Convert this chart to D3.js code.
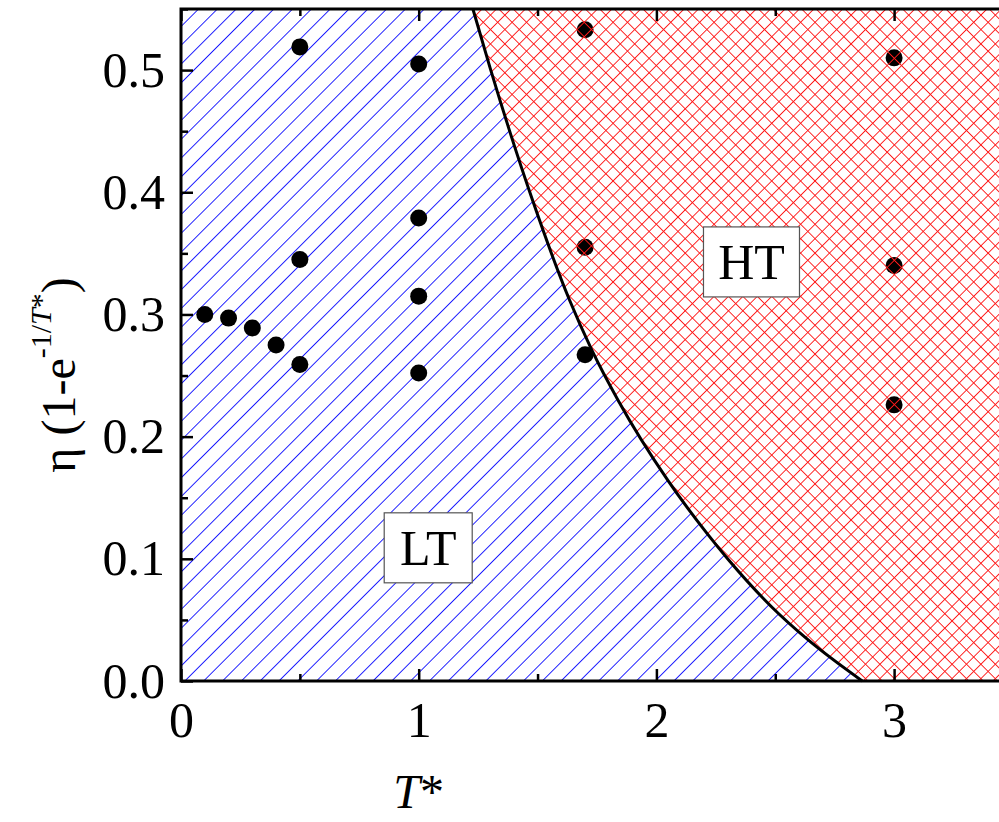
<!DOCTYPE html>
<html>
<head>
<meta charset="utf-8">
<script src="https://cdn.jsdelivr.net/npm/d3@7"></script>
<style>
  html, body { margin: 0; padding: 0; background: #fff; overflow: hidden; }
  svg { display: block; }
  text { font-family: "Liberation Serif", "Times New Roman", serif; }
</style>
</head>
<body>
<svg id="chart" width="999" height="822"></svg>
<script>
// ---- data ----
const ltT   = [0.1, 0.2, 0.3, 0.4, 0.5, 0.5, 0.5, 1.0, 1.0, 1.0, 1.0, 1.7];
const ltEta = [0.300, 0.297, 0.289, 0.275, 0.259, 0.345, 0.519, 0.252, 0.315, 0.379, 0.505, 0.267];
const htT   = [1.7, 1.7, 3.0, 3.0, 3.0];
const htEta = [0.355, 0.533, 0.226, 0.340, 0.510];
const boundaryT   = [1.228, 1.300, 1.386, 1.478, 1.634, 1.728, 1.841, 2.049, 2.212, 2.304, 2.483, 2.636, 2.866];
const boundaryEta = [0.550, 0.502, 0.448, 0.394, 0.312, 0.271, 0.229, 0.164, 0.121, 0.099, 0.061, 0.034, 0.000];
const xTicks = [0, 1, 2, 3];
const xMinorTicks = [0.5, 1.5, 2.5, 3.5];
const yTicks = [0.0, 0.1, 0.2, 0.3, 0.4, 0.5];
const yMinorTicks = [0.05, 0.15, 0.25, 0.35, 0.45, 0.55];
const regionLabels = ["LT", "HT"];
const regionLabelT = [1.04, 2.40];
const regionLabelEta = [0.109, 0.343];

// ---- layout ----
const svg = d3.select("#chart");
const padLeft = 181, padTop = 9, padBottom = 681, pxPerT = 237.7;
const xMax = 3.5, yMax = 0.55;
const x = d3.scaleLinear().domain([0, xMax]).range([padLeft, padLeft + xMax * pxPerT]);
const y = d3.scaleLinear().domain([0, yMax]).range([padBottom, padTop]);

const defs = svg.append("defs");
// blue single hatch
const bp = 13.3;
const pb = defs.append("pattern").attr("id", "hatchBlue")
  .attr("patternUnits", "userSpaceOnUse").attr("width", bp).attr("height", bp)
  .attr("patternTransform", "rotate(45)");
pb.append("line").attr("x1", 0).attr("y1", 0).attr("x2", 0).attr("y2", bp)
  .attr("stroke", "#1a1aff").attr("stroke-width", 1.5).attr("shape-rendering", "crispEdges");
// red cross hatch
const rp = 10.2;
const pr = defs.append("pattern").attr("id", "hatchRed")
  .attr("patternUnits", "userSpaceOnUse").attr("width", rp).attr("height", rp)
  .attr("patternTransform", "rotate(45)");
pr.append("line").attr("x1", 0).attr("y1", 0).attr("x2", 0).attr("y2", rp)
  .attr("stroke", "#ff1a1a").attr("stroke-width", 1.5).attr("shape-rendering", "crispEdges");
pr.append("line").attr("x1", 0).attr("y1", 0).attr("x2", rp).attr("y2", 0)
  .attr("stroke", "#ff1a1a").attr("stroke-width", 1.5).attr("shape-rendering", "crispEdges");

const boundary = boundaryT.map((t, i) => [t, boundaryEta[i]]);
const line = d3.line().x(d => x(d[0])).y(d => y(d[1])).curve(d3.curveMonotoneX);
const bPath = line(boundary);

// LT region
svg.append("path")
  .attr("d", bPath + `L${x(0)},${y(0)}L${x(0)},${y(yMax)}Z`)
  .attr("fill", "url(#hatchBlue)");

// points
const pts = ltT.map((t, i) => [t, ltEta[i]]).concat(htT.map((t, i) => [t, htEta[i]]));
svg.selectAll("circle.pt").data(pts).enter().append("circle")
  .attr("class", "pt").attr("cx", d => x(d[0])).attr("cy", d => y(d[1]))
  .attr("r", 8.5).attr("fill", "#000");

// HT region (hatch drawn over the points, as in the original)
svg.append("path")
  .attr("d", bPath + `L${x(xMax)},${y(0)}L${x(xMax)},${y(yMax)}Z`)
  .attr("fill", "url(#hatchRed)");

// boundary line
svg.append("path").attr("d", bPath).attr("fill", "none")
  .attr("stroke", "#000").attr("stroke-width", 3);

// region label boxes
regionLabels.forEach((lab, i) => {
  const g = svg.append("g").attr("transform", `translate(${x(regionLabelT[i])},${y(regionLabelEta[i])})`);
  const w = lab === "LT" ? 88 : 96, h = 70;
  g.append("rect").attr("x", -w / 2).attr("y", -h / 2).attr("width", w).attr("height", h)
    .attr("fill", "#fff").attr("stroke", "#555").attr("stroke-width", 1.2);
  g.append("text").attr("text-anchor", "middle").attr("y", 17)
    .attr("font-size", 50).attr("fill", "#000").text(lab);
});

// axes
function styleAxis(g) {
  g.select(".domain").remove();
  g.selectAll(".tick line").attr("stroke", "#000").attr("stroke-width", 2.5);
  g.selectAll(".tick text").attr("font-size", 50).attr("fill", "#000")
    .style("font-family", "'Liberation Serif', serif");
}
svg.append("g").attr("transform", `translate(0,${padBottom})`)
  .call(d3.axisBottom(x).tickValues(xTicks).tickFormat(d3.format("d")).tickSize(-12).tickPadding(20))
  .call(styleAxis);
svg.append("g").attr("transform", `translate(0,${padBottom})`)
  .call(d3.axisBottom(x).tickValues(xMinorTicks).tickFormat("").tickSize(-7))
  .call(styleAxis);
svg.append("g").attr("transform", `translate(0,${padTop})`)
  .call(d3.axisTop(x).tickValues(xTicks).tickFormat("").tickSize(-12))
  .call(styleAxis);
svg.append("g").attr("transform", `translate(0,${padTop})`)
  .call(d3.axisTop(x).tickValues(xMinorTicks).tickFormat("").tickSize(-7))
  .call(styleAxis);
svg.append("g").attr("transform", `translate(${padLeft},0)`)
  .call(d3.axisLeft(y).tickValues(yTicks).tickFormat(d3.format(".1f")).tickSize(-12).tickPadding(16))
  .call(styleAxis);
svg.append("g").attr("transform", `translate(${padLeft},0)`)
  .call(d3.axisLeft(y).tickValues(yMinorTicks).tickFormat("").tickSize(-7))
  .call(styleAxis);

// frame
svg.append("rect").attr("x", x(0)).attr("y", y(yMax))
  .attr("width", x(xMax) - x(0)).attr("height", y(0) - y(yMax))
  .attr("fill", "none").attr("stroke", "#000").attr("stroke-width", 3);

// axis titles
const xt = svg.append("text").attr("x", x(1)).attr("y", 808)
  .attr("text-anchor", "middle").attr("font-size", 48).attr("fill", "#000");
xt.append("tspan").attr("font-style", "italic").text("T");
xt.append("tspan").text("*");

const yt = svg.append("text").attr("transform", "translate(75,375) rotate(-90)")
  .attr("text-anchor", "middle").attr("font-size", 48).attr("fill", "#000");
yt.append("tspan").text("\u03b7 (1-e");
yt.append("tspan").attr("font-size", 30).attr("dy", -24).text("-1/");
yt.append("tspan").attr("font-size", 30).attr("font-style", "italic").text("T");
yt.append("tspan").attr("font-size", 30).text("*");
yt.append("tspan").attr("dy", 24).text(")");
</script>
</body>
</html>
